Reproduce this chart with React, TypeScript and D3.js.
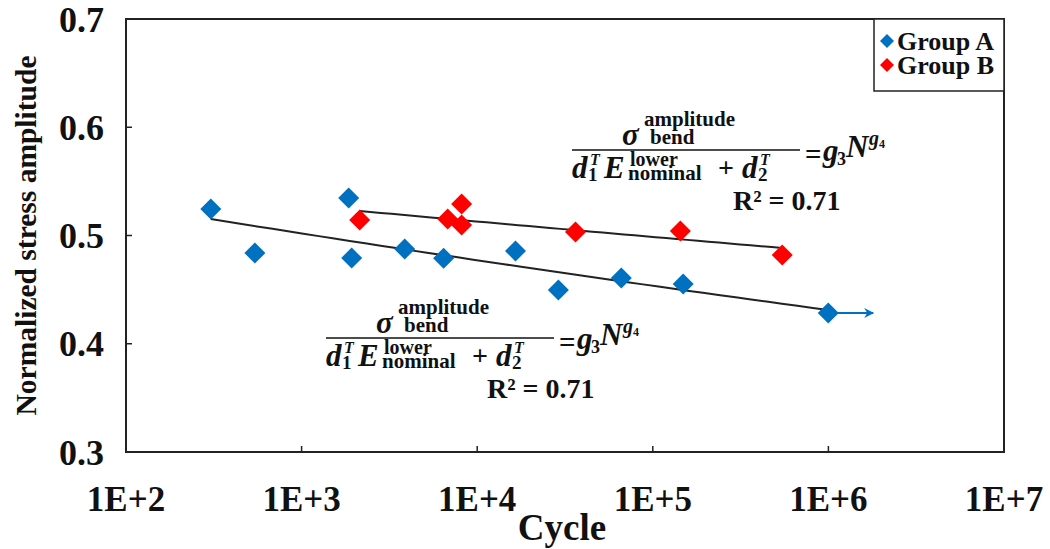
import React from "react";
import * as d3 from "d3";

const groupACycles = [304, 542, 1854, 1928, 3865, 6440, 16530, 29000, 66200, 149000, 998000];
const groupAStress = [0.5245, 0.4838, 0.5346, 0.4792, 0.4875, 0.479, 0.4857, 0.4497, 0.4607, 0.4552, 0.4284];
const groupBCycles = [2142, 6790, 8150, 8150, 36300, 143600, 546000];
const groupBStress = [0.5143, 0.5152, 0.5291, 0.5097, 0.5032, 0.5042, 0.482];
// power-law trend lines y = a * N^b
const trendA = { a: 0.5843, b: -0.022, from: 304, to: 998000 };
const trendB = { a: 0.5739, b: -0.0122, from: 2142, to: 546000 };
const runoutTo = 1.8e6;
const xTicks = [1e2, 1e3, 1e4, 1e5, 1e6, 1e7];
const xTickLabels = ["1E+2", "1E+3", "1E+4", "1E+5", "1E+6", "1E+7"];
const yTicks = [0.3, 0.4, 0.5, 0.6, 0.7];
const yTickLabels = ["0.3", "0.4", "0.5", "0.6", "0.7"];
const legendLabels = ["Group A", "Group B"];
const r2Text = "R² = 0.71";

const W = 1050, H = 549;
const L = 126, R = 1004, T = 19, B = 452;
const BLUE = "#0070C0", RED = "#FF0000";
const FONT = "'Liberation Serif', 'Times New Roman', serif";

const x = d3.scaleLog().domain([1e2, 1e7]).range([L, R]);
const y = d3.scaleLinear().domain([0.3, 0.7]).range([B, T]);

function diamond(cx: number, cy: number, r: number) {
  return `M${cx},${cy - r}L${cx + r},${cy}L${cx},${cy + r}L${cx - r},${cy}Z`;
}

function trendPath(t: { a: number; b: number; from: number; to: number }) {
  const pts = d3.range(0, 41).map((i) => {
    const lx = Math.log10(t.from) + (i / 40) * (Math.log10(t.to) - Math.log10(t.from));
    const n = Math.pow(10, lx);
    return [n, t.a * Math.pow(n, t.b)] as [number, number];
  });
  return d3.line<[number, number]>().x((d) => x(d[0])).y((d) => y(d[1]))(pts) || "";
}

function Formula({ ox, oy }: { ox: number; oy: number }) {
  const bi = { fontFamily: FONT, fontWeight: "bold", fontStyle: "italic" } as const;
  const b = { fontFamily: FONT, fontWeight: "bold" } as const;
  return (
    <g transform={`translate(${ox},${oy})`} fill="#111">
      <line x1={0} x2={228} y1={0} y2={0} stroke="#111" strokeWidth={1.6} />
      <text x={50} y={-5} fontSize={31} {...bi}>σ</text>
      <text x={72} y={-24} fontSize={21} {...b}>amplitude</text>
      <text x={78} y={-6} fontSize={21} {...b}>bend</text>
      <text x={0} y={28} fontSize={31} {...bi}>d</text>
      <text x={16} y={31} fontSize={19} {...b}>1</text>
      <text x={18} y={15} fontSize={16} {...bi}>T</text>
      <text x={32} y={28} fontSize={31} {...bi}>E</text>
      <text x={58} y={16} fontSize={20} {...b}>lower</text>
      <text x={56} y={30} fontSize={21} {...b}>nominal</text>
      <text x={146} y={27} fontSize={28} {...b}>+</text>
      <text x={170} y={28} fontSize={31} {...bi}>d</text>
      <text x={186} y={31} fontSize={19} {...b}>2</text>
      <text x={188} y={15} fontSize={16} {...bi}>T</text>
      <text x={233} y={14} fontSize={29} {...b}>=</text>
      <text x={251} y={11} fontSize={31} {...bi}>g</text>
      <text x={265} y={15} fontSize={18} {...b}>3</text>
      <text x={274} y={7} fontSize={31} {...bi}>N</text>
      <text x={297} y={-5} fontSize={20} {...bi}>g</text>
      <text x={307} y={-2} fontSize={12} {...b}>4</text>
      <text x={161} y={60} fontSize={28} {...b}>{r2Text}</text>
    </g>
  );
}

export default function App() {
  const a = groupACycles.map((c, i) => ({ c, s: groupAStress[i] }));
  const bpts = groupBCycles.map((c, i) => ({ c, s: groupBStress[i] }));
  const last = a[a.length - 1];
  return (
    <svg width={W} height={H} style={{ position: "absolute", left: 0, top: 0, background: "#fff" }}>
      <defs>
        <marker id="arr" viewBox="0 0 10 10" refX="9" refY="5" markerWidth="5" markerHeight="5" orient="auto">
          <path d="M0,0L10,5L0,10L3,5Z" fill={BLUE} />
        </marker>
      </defs>
      <rect x={0} y={0} width={W} height={H} fill="#fff" />
      <rect x={L} y={T} width={R - L} height={B - T} fill="none" stroke="#222" strokeWidth={2} />
      {yTicks.slice(1, -1).map((t) => (
        <line key={t} x1={L} x2={L + 6} y1={y(t)} y2={y(t)} stroke="#222" strokeWidth={1.5} />
      ))}
      {xTicks.slice(1, -1).map((t) => (
        <line key={t} x1={x(t)} x2={x(t)} y1={B} y2={B - 6} stroke="#222" strokeWidth={1.5} />
      ))}
      {yTicks.map((t, i) => (
        <text key={t} x={104} y={y(t)} dy="0.35em" textAnchor="end" fontFamily={FONT} fontWeight="bold" fontSize={36} fill="#111">
          {yTickLabels[i]}
        </text>
      ))}
      {xTicks.map((t, i) => (
        <text key={t} x={x(t)} y={511} textAnchor="middle" fontFamily={FONT} fontWeight="bold" fontSize={35} fill="#111">
          {xTickLabels[i]}
        </text>
      ))}
      <text x={562} y={540} textAnchor="middle" fontFamily={FONT} fontWeight="bold" fontSize={37} fill="#111">Cycle</text>
      <text transform={`translate(36,${(T + B) / 2}) rotate(-90)`} textAnchor="middle" fontFamily={FONT} fontWeight="bold" fontSize={29.5} fill="#111">
        Normalized stress amplitude
      </text>
      <path d={trendPath(trendA)} fill="none" stroke="#222" strokeWidth={2} />
      <path d={trendPath(trendB)} fill="none" stroke="#222" strokeWidth={2} />
      <line x1={x(last.c)} x2={x(runoutTo)} y1={y(last.s)} y2={y(last.s)} stroke={BLUE} strokeWidth={2} markerEnd="url(#arr)" />
      {a.map((p, i) => (
        <path key={"a" + i} d={diamond(x(p.c), y(p.s), 10.5)} fill={BLUE} />
      ))}
      {bpts.map((p, i) => (
        <path key={"b" + i} d={diamond(x(p.c), y(p.s), 10.5)} fill={RED} />
      ))}
      <Formula ox={572} oy={150} />
      <Formula ox={326} oy={338} />
      <rect x={874} y={T} width={R - 874} height={72} fill="#fff" stroke="#222" strokeWidth={1.5} />
      {legendLabels.map((l, i) => (
        <g key={l}>
          <path d={diamond(887, 41 + i * 24, 7)} fill={i === 0 ? BLUE : RED} />
          <text x={897} y={41 + i * 24} dy="0.35em" fontFamily={FONT} fontWeight="bold" fontSize={26} fill="#111">{l}</text>
        </g>
      ))}
    </svg>
  );
}
